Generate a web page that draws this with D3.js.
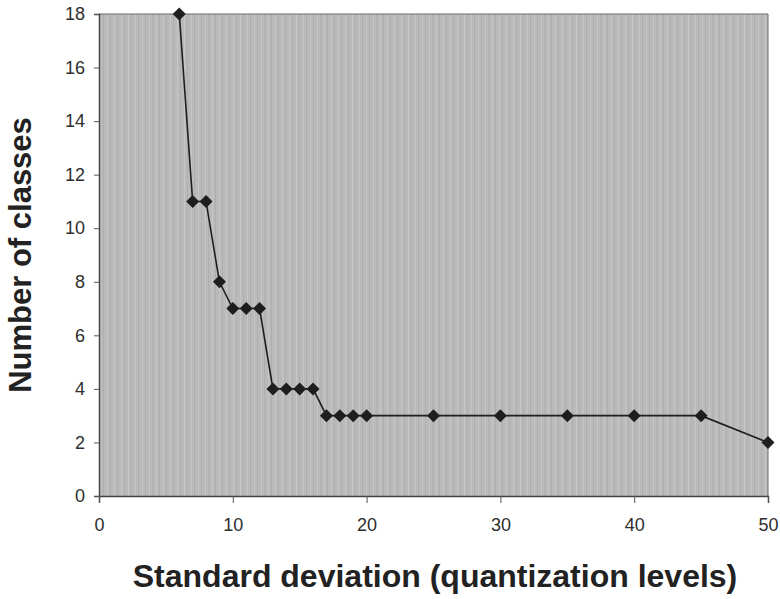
<!DOCTYPE html>
<html>
<head>
<meta charset="utf-8">
<script src="https://cdn.jsdelivr.net/npm/d3@7"></script>
<style>
  html, body { margin: 0; padding: 0; background: #fff; }
  svg { display: block; }
  text { font-family: "Liberation Sans", Arial, sans-serif; }
</style>
</head>
<body>
<script>
// Number of classes found for each standard deviation (quantization levels)
const stdDev  = [6, 7, 8, 9, 10, 11, 12, 13, 14, 15, 16, 17, 18, 19, 20, 25, 30, 35, 40, 45, 50];
const classes = [18, 11, 11, 8, 7, 7, 7, 4, 4, 4, 4, 3, 3, 3, 3, 3, 3, 3, 3, 3, 2];
const xTicks = [0, 10, 20, 30, 40, 50];
const yTicks = [0, 2, 4, 6, 8, 10, 12, 14, 16, 18];
const xTitle = "Standard deviation (quantization levels)";
const yTitle = "Number of classes";

const W = 780, H = 599;
const m = { left: 99, right: 12, top: 14, bottom: 103 };
const iw = W - m.left - m.right, ih = H - m.top - m.bottom;

const svg = d3.select("body").append("svg").attr("width", W).attr("height", H);

// Faint vertical halftone stripes in the plot background
const defs = svg.append("defs");
const pat = defs.append("pattern")
  .attr("id", "stripes").attr("patternUnits", "userSpaceOnUse")
  .attr("width", 7).attr("height", 7);
pat.append("rect").attr("width", 7).attr("height", 7).attr("fill", "#bababa");
pat.append("rect").attr("x", 1).attr("width", 1).attr("height", 7).attr("fill", "#c6c6c6");
pat.append("rect").attr("x", 4).attr("width", 1).attr("height", 7).attr("fill", "#afafaf");

const x = d3.scaleLinear().domain([0, 50]).range([0, iw]);
const y = d3.scaleLinear().domain([0, 18]).range([ih, 0]);

const g = svg.append("g").attr("transform", `translate(${m.left},${m.top})`);

g.append("rect").attr("width", iw).attr("height", ih).attr("fill", "url(#stripes)");
// plot frame: top/right lighter, left/bottom axis lines darker
g.append("path").attr("d", `M0,0H${iw}V${ih}`).attr("fill", "none")
  .attr("stroke", "#6a6a6a").attr("stroke-width", 1);

const yAxis = g.append("g").call(d3.axisLeft(y).tickValues(yTicks).tickSize(5).tickPadding(9).tickFormat(d3.format("d")));
const xAxis = g.append("g").attr("transform", `translate(0,${ih})`)
  .call(d3.axisBottom(x).tickValues(xTicks).tickSize(7).tickPadding(15).tickFormat(d3.format("d")));

[yAxis, xAxis].forEach(a => {
  a.select(".domain").attr("stroke", "#444").attr("stroke-width", 1.5);
  a.selectAll(".tick line").attr("stroke", "#555");
  a.selectAll(".tick text").attr("fill", "#2e2e2e").style("font-size", "18px")
    .style("font-family", "'Liberation Sans', Arial, sans-serif");
});

const pts = stdDev.map((d, i) => ({ x: d, y: classes[i] }));

g.append("path").datum(pts)
  .attr("fill", "none").attr("stroke", "#1e1e1e").attr("stroke-width", 1.6)
  .attr("d", d3.line().x(d => x(d.x)).y(d => y(d.y)));

const diamond = "M0,-6.5L6.5,0L0,6.5L-6.5,0Z";
g.selectAll(".pt").data(pts).join("path")
  .attr("class", "pt")
  .attr("d", diamond)
  .attr("transform", d => `translate(${x(d.x)},${y(d.y)})`)
  .attr("fill", "#1e1e1e");

svg.append("text")
  .attr("x", 435).attr("y", 587)
  .attr("text-anchor", "middle")
  .attr("fill", "#222").style("font-size", "32px").style("font-weight", "bold")
  .text(xTitle);

svg.append("text")
  .attr("transform", `translate(31,${m.top + ih / 2}) rotate(-90)`)
  .attr("text-anchor", "middle")
  .attr("fill", "#222").style("font-size", "31px").style("font-weight", "bold")
  .text(yTitle);
</script>
</body>
</html>
